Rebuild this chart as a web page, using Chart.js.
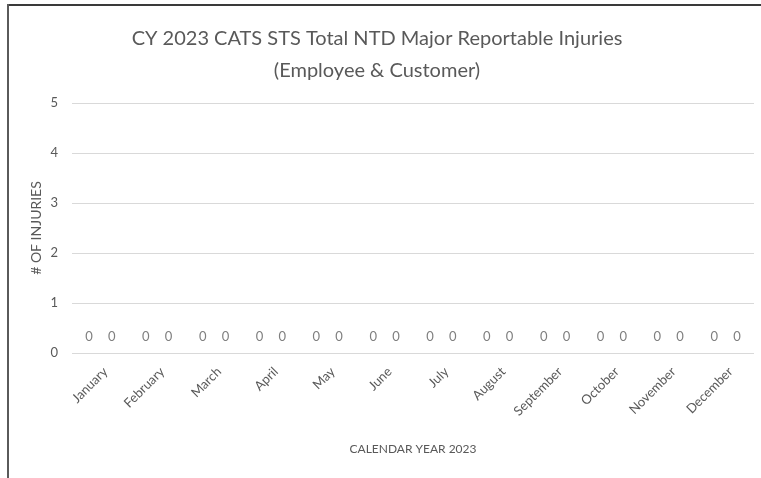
<!DOCTYPE html>
<html>
<head>
<meta charset="utf-8">
<script src="https://cdn.jsdelivr.net/npm/chart.js@4.4.0/dist/chart.umd.min.js"></script>
<style>
    html, body { margin: 0; padding: 0; background: #fff; overflow: hidden; }
    #lineTop { position: absolute; left: 7px; top: 4px; width: 754px; height: 2px; background: #3a3a3a; }
    #lineLeft { position: absolute; left: 7px; top: 4px; width: 2px; height: 474px; background: #5a5a5a; }
    #wrap { position: absolute; left: 0; top: 0; width: 761px; height: 478px; }
</style>
</head>
<body>
<div id="lineTop"></div>
<div id="lineLeft"></div>
<div id="wrap"><canvas id="injuryChart"></canvas></div>
<script>
// Chart data
const months = ['January', 'February', 'March', 'April', 'May', 'June', 'July',
    'August', 'September', 'October', 'November', 'December'];
const employeeInjuries = [0, 0, 0, 0, 0, 0, 0, 0, 0, 0, 0, 0];
const customerInjuries = [0, 0, 0, 0, 0, 0, 0, 0, 0, 0, 0, 0];
const yTicks = [0, 1, 2, 3, 4, 5];

const textGray = '#595959';
const fontName = 'Lato, "Open Sans", sans-serif';

// Draw the value labels over each (zero-height) bar
const valueLabels = {
    id: 'valueLabels',
    afterDatasetsDraw(chart) {
        const ctx = chart.ctx;
        ctx.save();
        ctx.font = '13px ' + fontName;
        ctx.fillStyle = '#7f7f7f';
        ctx.textAlign = 'center';
        ctx.textBaseline = 'middle';
        chart.data.datasets.forEach((ds, i) => {
            chart.getDatasetMeta(i).data.forEach((bar, j) => {
                ctx.fillText(String(ds.data[j]), bar.x, bar.y - 16);
            });
        });
        ctx.restore();
    }
};

const ctx = document.getElementById('injuryChart').getContext('2d');
new Chart(ctx, {
    type: 'bar',
    data: {
        labels: months,
        datasets: [
            {
                label: 'Employee',
                data: employeeInjuries,
                backgroundColor: '#4472c4',
                borderWidth: 0
            },
            {
                label: 'Customer',
                data: customerInjuries,
                backgroundColor: '#ed7d31',
                borderWidth: 0
            }
        ]
    },
    options: {
        responsive: true,
        maintainAspectRatio: false,
        animation: false,
        categoryPercentage: 0.8,
        barPercentage: 1,
        layout: { padding: { top: 23, left: 0, right: 7, bottom: 0 } },
        plugins: {
            legend: { display: false },
            tooltip: { enabled: false },
            title: {
                display: true,
                text: ['CY 2023 CATS STS Total NTD Major Reportable Injuries', '(Employee & Customer)'],
                color: textGray,
                font: { family: fontName, size: 20, weight: 'normal', lineHeight: 1.6 },
                padding: { top: 0, bottom: 16 }
            }
        },
        scales: {
            x: {
                grid: { display: false },
                border: { display: false },
                ticks: {
                    color: textGray,
                    font: { family: fontName, size: 13 },
                    maxRotation: 45,
                    minRotation: 45,
                    labelOffset: 5,
                    padding: 3
                },
                title: {
                    display: true,
                    text: 'CALENDAR YEAR 2023',
                    color: textGray,
                    font: { family: fontName, size: 12 },
                    padding: { top: 0, bottom: 22 }
                },
                afterFit: scale => { scale.height = 125; }
            },
            y: {
                min: 0,
                max: 5,
                afterBuildTicks: scale => { scale.ticks = yTicks.map(v => ({ value: v })); },
                grid: { color: '#d9d9d9', drawTicks: false },
                border: { display: false },
                ticks: {
                    color: textGray,
                    font: { family: fontName, size: 13 },
                    padding: 14
                },
                title: {
                    display: true,
                    text: '# OF INJURIES',
                    color: textGray,
                    font: { family: fontName, size: 14 },
                    padding: { top: 28, bottom: 0 }
                },
                afterFit: scale => { scale.width = 72; }
            }
        }
    },
    plugins: [valueLabels]
});
</script>
</body>
</html>
